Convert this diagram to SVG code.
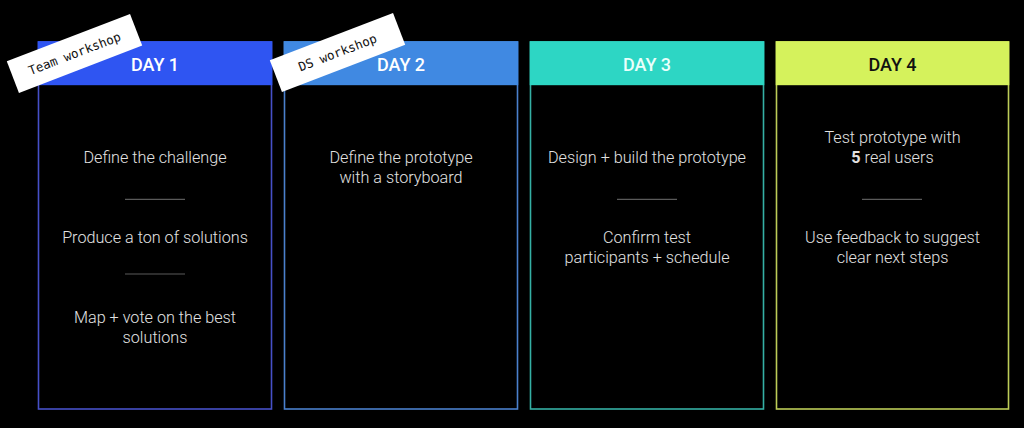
<svg xmlns="http://www.w3.org/2000/svg" width="1024" height="428" viewBox="0 0 1024 428">
  <style>
    .card { fill: #000; stroke-width: 1.6; }
    .hdr { font-family: Roboto, "Noto Sans", "Liberation Sans", sans-serif; font-weight: 500; font-size: 18px; text-anchor: middle; }
    .body { font-family: Roboto, "Noto Sans", "Liberation Sans", sans-serif; font-weight: 300; font-size: 16.2px; fill: #e2e2e2; text-anchor: middle; }
    .div { stroke: #5a5a5a; stroke-width: 1.2; }
    .tag rect { fill: #ffffff; }
    .tag text { font-family: "DejaVu Sans Mono", "Liberation Mono", monospace; font-size: 12.5px; fill: #111; text-anchor: middle; }
  </style>
  <rect width="1024" height="428" fill="#000"/>

  <g id="day1">
    <rect class="card" x="38.5" y="42" width="233" height="367" stroke="#4650c8"/>
    <rect x="37.7" y="41.2" width="234.6" height="44" fill="#2f55f2"/>
    <text class="hdr" x="155" y="71" fill="#ffffff">DAY 1</text>
    <text class="body" x="155" y="163.3">Define the challenge</text>
    <line class="div" x1="125" y1="199.3" x2="185" y2="199.3"/>
    <text class="body" x="155" y="243.3">Produce a ton of solutions</text>
    <line class="div" x1="125" y1="274" x2="185" y2="274"/>
    <text class="body" x="155" y="323">Map + vote on the best</text>
    <text class="body" x="155" y="342.5">solutions</text>
  </g>

  <g id="day2">
    <rect class="card" x="284.5" y="42" width="233" height="367" stroke="#4a80cc"/>
    <rect x="283.7" y="41.2" width="234.6" height="44" fill="#4089e2"/>
    <text class="hdr" x="401" y="71" fill="#ffffff">DAY 2</text>
    <text class="body" x="401" y="163.3">Define the prototype</text>
    <text class="body" x="401" y="183.3">with a storyboard</text>
  </g>

  <g id="day3">
    <rect class="card" x="530.5" y="42" width="233" height="367" stroke="#35b0a4"/>
    <rect x="529.7" y="41.2" width="234.6" height="44" fill="#2dd6c4"/>
    <text class="hdr" x="647" y="71" fill="#eafffb">DAY 3</text>
    <text class="body" x="647" y="163.3">Design + build the prototype</text>
    <line class="div" x1="617" y1="199.3" x2="677" y2="199.3"/>
    <text class="body" x="647" y="243.3">Confirm test</text>
    <text class="body" x="647" y="262.7">participants + schedule</text>
  </g>

  <g id="day4">
    <rect class="card" x="776.5" y="42" width="232" height="367" stroke="#bccc58"/>
    <rect x="775.7" y="41.2" width="233.6" height="44" fill="#d5f25c"/>
    <text class="hdr" x="892.5" y="71" fill="#111111">DAY 4</text>
    <text class="body" x="892.5" y="143.3">Test prototype with</text>
    <text class="body" x="892.5" y="163.3"><tspan font-weight="700">5</tspan> real users</text>
    <line class="div" x1="862" y1="199.3" x2="922" y2="199.3"/>
    <text class="body" x="892.5" y="243.3">Use feedback to suggest</text>
    <text class="body" x="892.5" y="262.7">clear next steps</text>
  </g>

  <g id="tag-team" class="tag" transform="translate(74.5,53.4) rotate(-21)">
    <rect x="-66" y="-17" width="132" height="34"/>
    <text x="0" y="4.5">Team workshop</text>
  </g>

  <g id="tag-ds" class="tag" transform="translate(337.5,52.5) rotate(-21)">
    <rect x="-66" y="-17" width="132" height="34"/>
    <text x="0" y="4.5">DS workshop</text>
  </g>

  <g id="connectors"/>
</svg>
